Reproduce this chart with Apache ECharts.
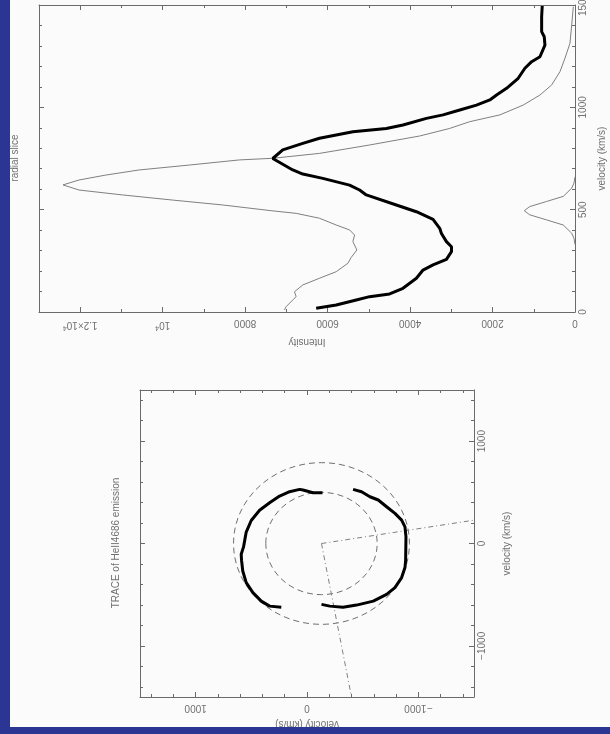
<!DOCTYPE html>
<html><head><meta charset="utf-8">
<script src="https://cdn.jsdelivr.net/npm/echarts@6/dist/echarts.min.js"></script>
<style>html,body{margin:0;padding:0;background:#fbfbfb}#c{width:610px;height:734px}</style>
</head><body><div id="c"></div>
<script>
// ---------- upper panel: radial slice (pairs are [velocity km/s, intensity]) ----------
const observedSlice = [[18,6277],[34,5791],[59,5305],[75,4982],[88,4496],[116,4172],[165,3847],[205,3686],[213,3645],[230,3443],[257,3118],[295,2996],[319,2996],[344,3118],[384,3239],[409,3281],[453,3443],[490,3847],[523,4333],[572,5062],[596,5225],[620,5468],[653,6116],[674,6602],[694,6845],[750,7330],[792,7088],[824,6602],[849,6197],[881,5387],[897,4576],[914,4172],[946,3604],[963,3200],[987,2795],[1011,2389],[1036,2066],[1060,1903],[1093,1660],[1142,1378],[1191,1215],[1223,1052],[1247,850],[1304,729],[1345,746],[1370,809],[1443,809],[1495,795]];
const modelSlice = [[10,7047],[26,7006],[59,6845],[75,6763],[99,6804],[132,6602],[165,6197],[197,5791],[238,5509],[267,5427],[303,5290],[344,5387],[376,5346],[401,5468],[425,5791],[458,6197],[482,6763],[495,7370],[523,8547],[547,9762],[572,10976],[596,12029],[621,12418],[645,12029],[669,11380],[694,10571],[718,9356],[743,8141],[751,7331],[775,6197],[816,4982],[860,3767],[897,3038],[930,2552],[963,1823],[1011,1256],[1060,851],[1109,567],[1174,365],[1240,243],[1313,122],[1402,80],[1492,41]];
const profileSlice = [[330,0],[360,25],[385,80],[425,284],[450,688],[475,1100],[495,1230],[515,1100],[540,690],[565,284],[605,80],[630,25],[660,0]];
const intensityTicks = [0,2000,4000,6000,8000,10000,12000];
const intensityTickLabels = ['0','2000','4000','6000','8000','10{s|4}','1.2\u00d710{s|4}'];
const sliceVelTicks = [0,500,1000,1500];
const sliceVelTickLabels = ['0','500','1000','1500'];

// ---------- lower panel: trace map (pairs are [horizontal velocity, vertical velocity]) ----------
const traceArc1 = [[-139,496],[-54,496],[36,523],[66,529],[156,506],[246,464],[336,398],[426,325],[501,225],[546,112],[570,-33],[591,-105],[588,-163],[577,-269],[546,-382],[486,-480],[411,-563],[336,-612],[231,-622]];
const traceArc2 = [[-414,529],[-490,506],[-565,457],[-640,425],[-715,359],[-790,294],[-850,228],[-880,163],[-889,65],[-886,-164],[-880,-235],[-850,-333],[-790,-431],[-715,-497],[-595,-563],[-445,-602],[-324,-622],[-205,-612],[-130,-595]];
const shellCircles = [[-130,0,500],[-130,0,790]]; // [centre h, centre v, radius]
const slitLine1 = [[-130,0],[-1500,228]];
const slitLine2 = [[-130,0],[-400,-1500]];
const mapTicks = [-1000,0,1000];
const mapTickLabels = ['\u22121000','0','1000'];

const AX = '#6a6a6a', TX = '#707070', FONT = 'Liberation Sans';
function fmt(ticks, labels){ return v => { const i = ticks.indexOf(v); return i < 0 ? '' : labels[i]; }; }
function axis(o){
  const base = {
    type:'value', axisLine:{show:true,onZero:false,lineStyle:{color:AX,width:1}},
    axisTick:{show:true,inside:true,length:5,lineStyle:{color:AX,width:1}},
    minorTick:{show:true,length:3,splitNumber:o.minor,lineStyle:{color:AX,width:1}},
    splitLine:{show:false}, minorSplitLine:{show:false}, axisLabel:{show:false},
    nameTextStyle:{color:TX,fontSize:10,fontFamily:FONT}
  };
  delete o.minor;
  return Object.assign(base,o);
}
const lbl = (rot, f, margin) => ({show:true, rotate:rot, formatter:f, margin:margin, color:TX, fontSize:10, fontFamily:FONT,
  showMinLabel:true, showMaxLabel:true, rich:{s:{fontSize:7,color:TX,fontFamily:FONT,padding:[0,0,6,0]}}});

const chart = echarts.init(document.getElementById('c'));
chart.setOption({
  backgroundColor:'#fbfbfb',
  animation:false,
  graphic:[
    {type:'rect',left:0,top:0,shape:{width:10,height:734},style:{fill:'#2b3593'},z:100},
    {type:'rect',left:0,top:727,shape:{width:610,height:7},style:{fill:'#2b3593'},z:100},
    {type:'text',x:15,y:158,rotation:Math.PI/2,style:{text:'radial slice',fill:TX,fontSize:10,fontFamily:FONT,align:'center',verticalAlign:'middle'}},
    {type:'text',x:116,y:543,rotation:Math.PI/2,style:{text:'TRACE of HeII4686 emission',fill:TX,fontSize:10,fontFamily:FONT,align:'center',verticalAlign:'middle'}}
  ],
  grid:[
    {left:39,top:5,width:536,height:307,outerBoundsMode:'none',containLabel:false},
    {left:140,top:390,width:334,height:307,outerBoundsMode:'none',containLabel:false}
  ],
  xAxis:[
    axis({gridIndex:0,position:'bottom',min:0,max:13000,interval:2000,inverse:true,minor:2,
      axisLabel:lbl(180,fmt(intensityTicks,intensityTickLabels),6),
      name:'Intensity',nameLocation:'middle',nameRotate:180,nameGap:25}),
    axis({gridIndex:0,position:'top',min:0,max:13000,interval:2000,inverse:true,minor:2}),
    axis({gridIndex:1,position:'bottom',min:-1500,max:1500,minInterval:1000,maxInterval:1000,inverse:true,minor:5,
      axisLabel:lbl(180,fmt(mapTicks,mapTickLabels),6),
      name:'velocity (km/s)',nameLocation:'middle',nameRotate:180,nameGap:22}),
    axis({gridIndex:1,position:'top',min:-1500,max:1500,minInterval:1000,maxInterval:1000,inverse:true,minor:5})
  ],
  yAxis:[
    axis({gridIndex:0,position:'right',min:0,max:1500,interval:500,minor:5,
      axisLabel:lbl(90,fmt(sliceVelTicks,sliceVelTickLabels),3),
      name:'velocity (km/s)',nameLocation:'middle',nameRotate:90,nameGap:22}),
    axis({gridIndex:0,position:'left',min:0,max:1500,interval:500,minor:5}),
    axis({gridIndex:1,position:'right',min:-1500,max:1500,minInterval:1000,maxInterval:1000,minor:5,
      axisLabel:lbl(90,fmt(mapTicks,mapTickLabels),3),
      name:'velocity (km/s)',nameLocation:'middle',nameRotate:90,nameGap:28}),
    axis({gridIndex:1,position:'left',min:-1500,max:1500,minInterval:1000,maxInterval:1000,minor:5})
  ],
  series:[
    {type:'line',xAxisIndex:0,yAxisIndex:0,data:modelSlice.map(p=>[p[1],p[0]]),showSymbol:false,lineStyle:{color:'#808080',width:1},z:2},
    {type:'line',xAxisIndex:0,yAxisIndex:0,data:profileSlice.map(p=>[p[1],p[0]]),showSymbol:false,lineStyle:{color:'#808080',width:1},z:2},
    {type:'line',xAxisIndex:0,yAxisIndex:0,data:observedSlice.map(p=>[p[1],p[0]]),showSymbol:false,lineStyle:{color:'#000',width:3},z:3},
    {type:'custom',xAxisIndex:2,yAxisIndex:2,data:shellCircles,encode:{x:0,y:1},clip:true,z:2,
      renderItem:(params,api)=>{
        const c = api.coord([api.value(0),api.value(1)]);
        const s = api.size([api.value(2),api.value(2)]);
        return {type:'ellipse',shape:{cx:c[0],cy:c[1],rx:Math.abs(s[0]),ry:Math.abs(s[1])},
          style:{fill:null,stroke:'#707070',lineWidth:1,lineDash:[6,4]}};
      }},
    {type:'line',xAxisIndex:2,yAxisIndex:2,data:slitLine1,showSymbol:false,lineStyle:{color:'#808080',width:1,type:[5,3,1,3]},z:2},
    {type:'line',xAxisIndex:2,yAxisIndex:2,data:slitLine2,showSymbol:false,lineStyle:{color:'#808080',width:1,type:[5,3,1,3]},z:2},
    {type:'line',xAxisIndex:2,yAxisIndex:2,data:traceArc1,showSymbol:false,lineStyle:{color:'#000',width:3},z:3},
    {type:'line',xAxisIndex:2,yAxisIndex:2,data:traceArc2,showSymbol:false,lineStyle:{color:'#000',width:3},z:3}
  ]
});
</script></body></html>
